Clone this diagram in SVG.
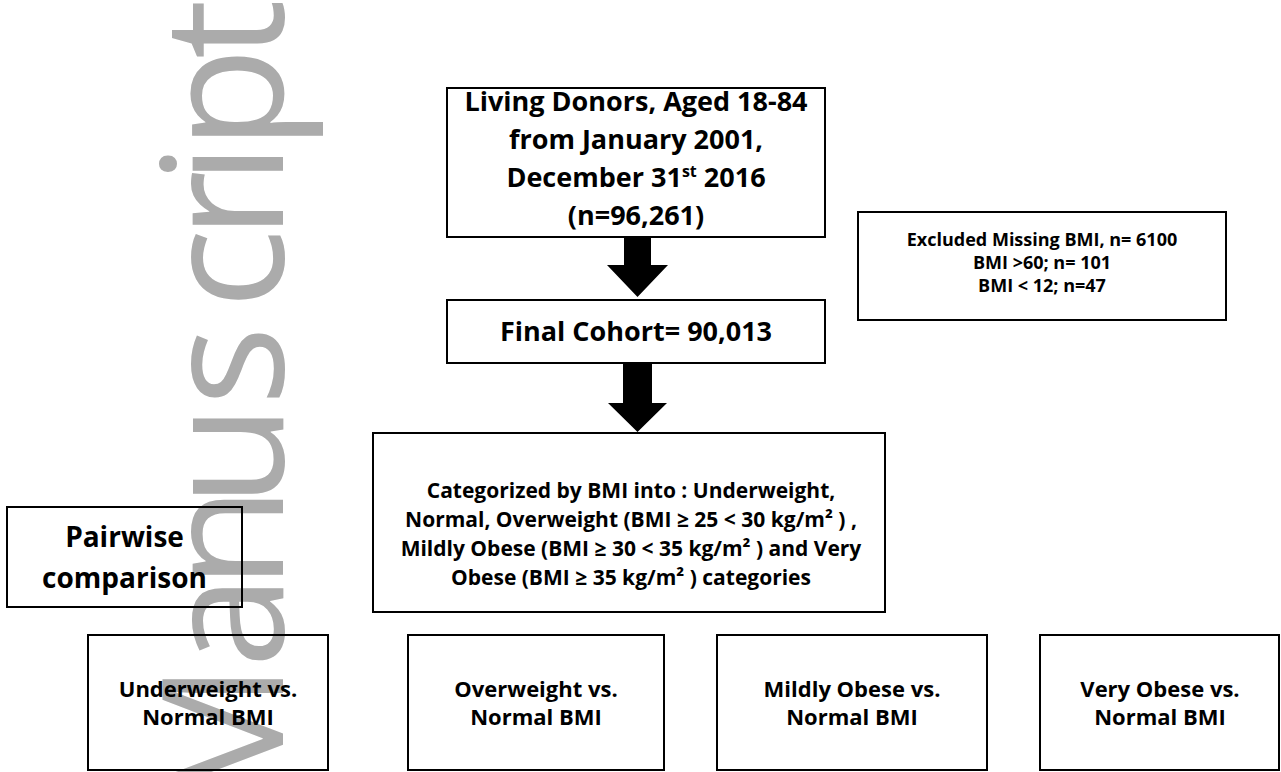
<svg xmlns="http://www.w3.org/2000/svg" width="1281" height="772" viewBox="0 0 1281 772">
<style>
.box{fill:none;stroke:#000;stroke-width:2}
.t{font-family:"Open Sans","Liberation Sans",sans-serif;font-weight:bold;fill:#000;text-anchor:middle}
.wm{font-family:"Open Sans","Liberation Sans",sans-serif;font-weight:400;font-size:168px;fill:#ababab}
.arrow{fill:#000}
</style>
<rect width="1281" height="772" fill="#fff"/>
<g id="watermark">
<text class="wm" transform="translate(283,772) rotate(-90)" x="-42 104 183 265 366 463 533 587 622 713" y="0">Manuscript</text>
</g>
<g id="connectors">
<polygon class="arrow" points="624,237 651,237 651,265 668,265 637.5,297 607,265 624,265"/>
<polygon class="arrow" points="623,363 652,363 652,403 667,403 637.5,432 608,403 623,403"/>
</g>
<g id="living-donors">
<rect class="box" x="447" y="88" width="378" height="149"/>
<text class="t" font-size="27" x="636" y="111">Living Donors, Aged 18-84</text>
<text class="t" font-size="27" x="636" y="149">from January 2001,</text>
<text class="t" font-size="27" x="636" y="187">December 31<tspan font-size="16" dy="-10">st</tspan><tspan dy="10"> 2016</tspan></text>
<text class="t" font-size="27" x="636" y="225">(n=96,261)</text>
</g>
<g id="final-cohort">
<rect class="box" x="447" y="300" width="378" height="63"/>
<text class="t" font-size="27" x="636" y="341">Final Cohort= 90,013</text>
</g>
<g id="excluded">
<rect class="box" x="858" y="212" width="368" height="108"/>
<text class="t" font-size="18" x="1042" y="246">Excluded Missing BMI, n= 6100</text>
<text class="t" font-size="18" x="1042" y="269">BMI &gt;60; n= 101</text>
<text class="t" font-size="18" x="1042" y="292">BMI &lt; 12; n=47</text>
</g>
<g id="categorized">
<rect class="box" x="373" y="433" width="512" height="179"/>
<text class="t" font-size="21" x="631" y="498">Categorized by BMI into : Underweight,</text>
<text class="t" font-size="21" x="631" y="527">Normal, Overweight (BMI ≥ 25 &lt; 30 kg/m² ) ,</text>
<text class="t" font-size="21" x="631" y="556">Mildly Obese (BMI ≥ 30 &lt; 35 kg/m² ) and Very</text>
<text class="t" font-size="21" x="631" y="585">Obese (BMI ≥ 35 kg/m² ) categories</text>
</g>
<g id="pairwise">
<rect class="box" x="7" y="507" width="235" height="100"/>
<text class="t" font-size="28" x="124.5" y="547">Pairwise</text>
<text class="t" font-size="28" x="124.5" y="588">comparison</text>
</g>
<g id="underweight">
<rect class="box" x="88" y="635" width="240" height="135"/>
<text class="t" font-size="22" x="208" y="697">Underweight vs.</text>
<text class="t" font-size="22" x="208" y="725">Normal BMI</text>
</g>
<g id="overweight">
<rect class="box" x="408" y="635" width="256" height="135"/>
<text class="t" font-size="22" x="536" y="697">Overweight vs.</text>
<text class="t" font-size="22" x="536" y="725">Normal BMI</text>
</g>
<g id="mildly-obese">
<rect class="box" x="717" y="635" width="270" height="135"/>
<text class="t" font-size="22" x="852" y="697">Mildly Obese vs.</text>
<text class="t" font-size="22" x="852" y="725">Normal BMI</text>
</g>
<g id="very-obese">
<rect class="box" x="1040" y="635" width="239" height="135"/>
<text class="t" font-size="22" x="1160" y="697">Very Obese vs.</text>
<text class="t" font-size="22" x="1160" y="725">Normal BMI</text>
</g>
</svg>
